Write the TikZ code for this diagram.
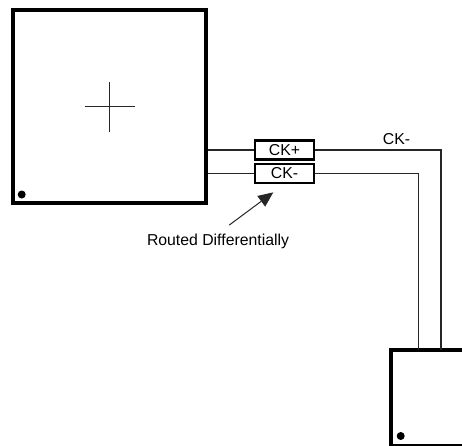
\documentclass[tikz,border=0pt]{standalone}
\usepackage{fontspec}
\setmainfont{Liberation Sans}
\usetikzlibrary{arrows.meta,positioning,calc}
\tikzset{
  chip/.style={draw,rectangle,line width=4pt,minimum width=193.5pt,minimum height=193pt,inner sep=0pt},
  rblk/.style={draw,rectangle,line width=2.4pt,minimum width=58.5pt,minimum height=18.8pt,inner sep=0pt,font=\fontsize{15.8}{18}\selectfont},
  pinone/.style={circle,fill=black,minimum size=8pt,inner sep=0pt},
  wire/.style={line width=1.1pt,black!85},
  crossln/.style={line width=1pt,black!85},
  arr/.style={-{Triangle[length=15pt,width=13pt]},line width=1pt,black!85},
  lbl/.style={font=\fontsize{15.8}{18}\selectfont,inner sep=0pt,align=center}
}
\begin{document}
\begin{tikzpicture}[x=1pt,y=1pt]
  \useasboundingbox (0,0) rectangle (462,445);
  \node[chip] (bigchip) at (109.4,338.4) {};
  \node[chip, minimum width=160pt, minimum height=95.5pt] (smallchip) at (470.9,47.25) {};
  \node[rblk] (ckp) at (284.5,295) {CK+};
  \node[rblk] (ckm) at (284.5,271.6) {CK-};
  \node[pinone] (dotbig) at (21.7,250.5) {};
  \node[pinone] (dotsmall) at (400.7,9) {};
  \node[lbl] (routed) at (218,204) {Routed Differentially};
  \node[lbl] (cklabel) at (396.5,306) {CK-};

  \coordinate (crossl) at (84.5,338);
  \coordinate (crossr) at (134.5,338);
  \coordinate (crosst) at (109.5,363);
  \coordinate (crossb) at (109.5,313);
  \coordinate (portp) at (441,95);
  \coordinate (portm) at (418.7,95);

  \draw[crossln] (crossl) -- (crossr);
  \draw[crossln] (crosst) -- (crossb);

  \draw[wire] (bigchip.east |- ckp.west) -- (ckp.west);
  \draw[wire] (bigchip.east |- ckm.west) -- (ckm.west);
  \draw[wire] (ckp.east) -| (portp);
  \draw[wire] (ckm.east) -| (portm);

  \draw[arr, shorten <=14pt, shorten >=14pt] (routed.north) -- (ckm.south);
\end{tikzpicture}
\end{document}
